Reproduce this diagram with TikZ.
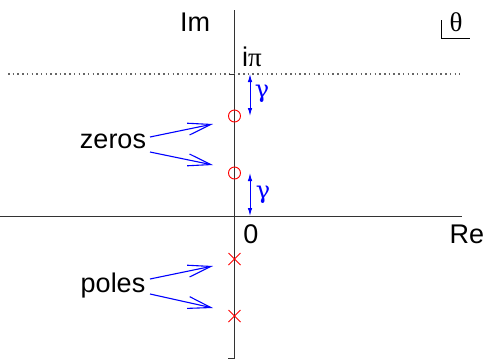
\documentclass[tikz,border=0pt]{standalone}
\usepackage{fontspec}
\setmainfont{Liberation Sans}
\newfontfamily\grk{Liberation Serif}
\newfontfamily\gmf{DejaVu Serif}
\usetikzlibrary{arrows.meta,calc}
\tikzset{
  axis/.style={draw=black!80, line width=0.9pt},
  lbl/.style={font=\fontsize{27}{30}\selectfont, inner sep=0pt},
  glbl/.style={font=\grk\fontsize{27}{30}\selectfont, inner sep=0pt},
  gmlbl/.style={font=\gmf\fontsize{24}{28}\selectfont, inner sep=0pt, text=blue},
  zeromark/.style={draw=red, line width=0.9pt, circle, minimum size=12pt, inner sep=0pt},
  polemark/.style={draw=red, line width=0.9pt},
  pointer/.style={draw=blue, line width=1.1pt, -{Straight Barb[length=23pt,width=12pt,line width=1.1pt]}},
  gap/.style={draw=blue, line width=1pt, {Latex[length=8pt,width=4.5pt]}-{Latex[length=8pt,width=4.5pt]}},
}
\begin{document}
\begin{tikzpicture}[x=1pt,y=-1pt]
\useasboundingbox (0,0) rectangle (485,360);
% axes
\coordinate (vtop) at (234.5,10);
\coordinate (vbot) at (234.5,358);
\coordinate (hl) at (0,216);
\coordinate (hr) at (462,216);
\draw[axis] (vtop) -- (vbot);
\draw[axis] (hl) -- (hr);
\coordinate (tka) at (228,358);
\draw[axis] (tka) -- (vbot);
% dotted line at i pi
\coordinate (dl) at (8,74);
\coordinate (dr) at (460,74);
\draw[black!60, line width=1.3pt, dash pattern=on 1.5pt off 3.2pt] (dl) -- (dr);
\coordinate (tk1) at (229,74);
\coordinate (tk2) at (234.5,74);
\draw[axis] (tk1) -- (tk2);
% labels
\node[lbl] (im) at (195,22) {Im};
\node[lbl] (re) at (467,234) {Re};
\node[lbl] (zero) at (251,234) {0};
\node[lbl, anchor=base west] (ipi) at (242,66) {i{\grk π}};
% theta box
\node[glbl] (theta) at (456,22) {θ};
\coordinate (tha) at (441,20);
\coordinate (thb) at (441,38);
\coordinate (thc) at (470,38);
\draw[black, line width=0.8pt] (tha) -- (thb) -- (thc);
% zeros
\node[zeromark] (z1) at (234.5,116) {};
\node[zeromark] (z2) at (234.5,173) {};
% poles
\foreach \n/\y in {p1/259, p2/316} {
  \coordinate (\n) at (234.5,\y);
  \draw[polemark] ($(\n)+(-6,-6)$) -- ($(\n)+(6,6)$);
  \draw[polemark] ($(\n)+(-6,6)$) -- ($(\n)+(6,-6)$);
}
% gamma arrows
\coordinate (g1a) at (250,74);
\coordinate (g1b) at (250,116);
\coordinate (g2a) at (250,173);
\coordinate (g2b) at (250,216);
\draw[gap] (g1a) -- (g1b);
\draw[gap] (g2a) -- (g2b);
\node[gmlbl] (gm1) at (262,94) {γ};
\node[gmlbl] (gm2) at (263,195) {γ};
% zeros label and pointers
\node[lbl] (zl) at (113,141) {zeros};
\coordinate (za1) at (150,137);
\coordinate (za2) at (150,152);
\coordinate (zt1) at (213,124);
\coordinate (zt2) at (213,165);
\draw[pointer] (za1) -- (zt1);
\draw[pointer] (za2) -- (zt2);
% poles label and pointers
\node[lbl] (pl) at (113,286) {poles};
\coordinate (pa1) at (150,279);
\coordinate (pa2) at (150,294);
\coordinate (pt1) at (213,266);
\coordinate (pt2) at (213,308);
\draw[pointer] (pa1) -- (pt1);
\draw[pointer] (pa2) -- (pt2);
\end{tikzpicture}
\end{document}
